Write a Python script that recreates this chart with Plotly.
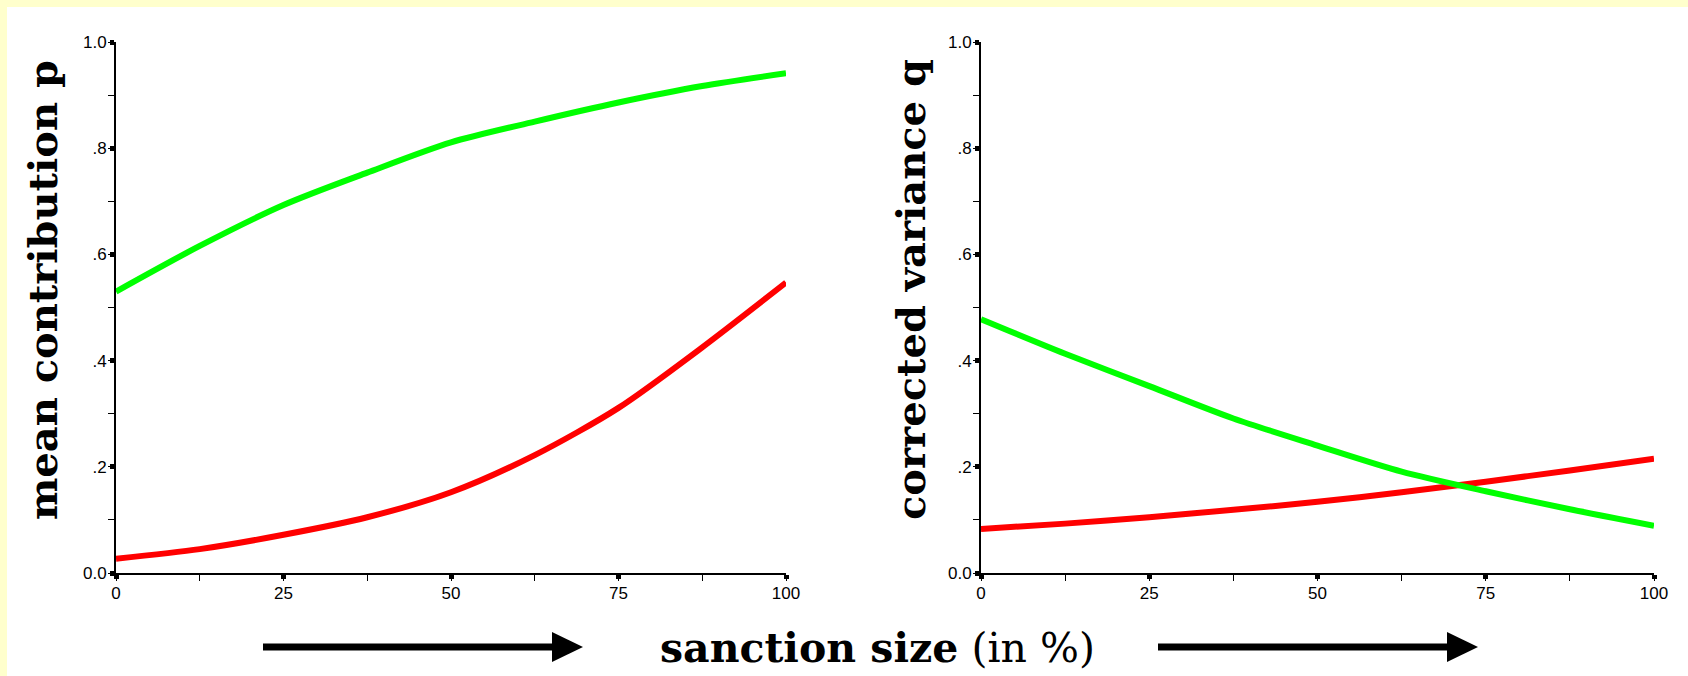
import plotly.graph_objects as go

# ---- data ----
sanction = [0, 12.5, 25, 37.5, 50, 62.5, 75, 87.5, 100]
p_green = [0.530, 0.616, 0.693, 0.754, 0.811, 0.850, 0.886, 0.917, 0.941]
p_red = [0.027, 0.045, 0.072, 0.105, 0.152, 0.222, 0.311, 0.425, 0.547]
q_green = [0.478, 0.413, 0.352, 0.291, 0.240, 0.191, 0.154, 0.120, 0.089]
q_red = [0.083, 0.093, 0.105, 0.119, 0.134, 0.152, 0.172, 0.193, 0.215]

x_ticks = [0, 25, 50, 75, 100]
x_ticklabels = ["0", "25", "50", "75", "100"]
y_ticks = [0.0, 0.2, 0.4, 0.6, 0.8, 1.0]
y_ticklabels = ["0.0", ".2", ".4", ".6", ".8", "1.0"]

left_title = "mean contribution p"
right_title = "corrected variance q"
bottom_title = "<b>sanction size</b> (in %)"

W, H = 1688, 676
GREEN = "#00FF00"
RED = "#FF0000"
YELLOW = "#FFFFCC"


def px(x):
    return x / W


def py(y):
    return (H - y) / H


fig = go.Figure()
line_kw = dict(width=6, shape="spline", smoothing=0.8)
fig.add_trace(go.Scatter(x=sanction, y=p_green, mode="lines", line=dict(color=GREEN, **line_kw),
                         xaxis="x", yaxis="y", showlegend=False, hoverinfo="skip"))
fig.add_trace(go.Scatter(x=sanction, y=p_red, mode="lines", line=dict(color=RED, **line_kw),
                         xaxis="x", yaxis="y", showlegend=False, hoverinfo="skip"))
fig.add_trace(go.Scatter(x=sanction, y=q_red, mode="lines", line=dict(color=RED, **line_kw),
                         xaxis="x2", yaxis="y2", showlegend=False, hoverinfo="skip"))
fig.add_trace(go.Scatter(x=sanction, y=q_green, mode="lines", line=dict(color=GREEN, **line_kw),
                         xaxis="x2", yaxis="y2", showlegend=False, hoverinfo="skip"))

tickfont = dict(family="Liberation Sans, Arial, sans-serif", size=17, color="#000")

xcommon = dict(range=[0, 100], tickvals=x_ticks, ticktext=x_ticklabels, ticks="outside",
               ticklen=4, tickwidth=5, tickcolor="#000", showline=True, linecolor="#000",
               linewidth=2, showgrid=False, zeroline=False, tickfont=tickfont, automargin=False,
               minor=dict(ticks="outside", ticklen=6, tickwidth=1, tickcolor="#000", dtick=12.5,
                          tick0=0, showgrid=False))
ycommon = dict(range=[0, 1], tickvals=y_ticks, ticktext=y_ticklabels, ticks="outside",
               ticklen=4, tickwidth=5, tickcolor="#000", showline=True, linecolor="#000",
               linewidth=2, showgrid=False, zeroline=False, tickfont=tickfont, automargin=False,
               minor=dict(ticks="outside", ticklen=6, tickwidth=1, tickcolor="#000", dtick=0.1,
                          tick0=0, showgrid=False))

ydom = [py(573), py(42)]
fig.update_layout(
    width=W, height=H,
    margin=dict(l=0, r=0, t=0, b=0, autoexpand=False),
    paper_bgcolor="white",
    plot_bgcolor="rgba(0,0,0,0)",
    xaxis=dict(domain=[px(116), px(786)], anchor="y", **xcommon),
    yaxis=dict(domain=ydom, anchor="x", **ycommon),
    xaxis2=dict(domain=[px(981), px(1654)], anchor="y2", **xcommon),
    yaxis2=dict(domain=ydom, anchor="x2", **ycommon),
)

# yellow frame strips (left and top)
fig.add_shape(type="rect", xref="paper", yref="paper", x0=0, x1=px(7), y0=0, y1=1,
              fillcolor=YELLOW, line=dict(width=0), layer="below")
fig.add_shape(type="rect", xref="paper", yref="paper", x0=0, x1=1, y0=py(7), y1=1,
              fillcolor=YELLOW, line=dict(width=0), layer="below")

# arrows
for x0, x1 in [(263, 583), (1158, 1478)]:
    head = 31
    fig.add_shape(type="line", xref="paper", yref="paper", x0=px(x0), x1=px(x1 - head + 2),
                  y0=py(647), y1=py(647), line=dict(color="black", width=7))
    path = "M {a},{b} L {c},{d} L {a},{e} Z".format(a=px(x1 - head), b=py(632), c=px(x1), d=py(647), e=py(662))
    fig.add_shape(type="path", xref="paper", yref="paper", path=path, fillcolor="black",
                  line=dict(color="black", width=0))

serif = "DejaVu Serif, serif"
fig.add_annotation(text="<b>" + left_title + "</b>", xref="paper", yref="paper", x=px(42), y=py(290),
                   textangle=-90, showarrow=False, font=dict(family=serif, size=40, color="#000"),
                   xanchor="center", yanchor="middle")
fig.add_annotation(text="<b>" + right_title + "</b>", xref="paper", yref="paper", x=px(910), y=py(290),
                   textangle=-90, showarrow=False, font=dict(family=serif, size=40, color="#000"),
                   xanchor="center", yanchor="middle")
fig.add_annotation(text=bottom_title, xref="paper", yref="paper", x=px(877), y=py(648),
                   showarrow=False, font=dict(family=serif, size=41, color="#000"),
                   xanchor="center", yanchor="middle")

fig.write_html(
    "out.html",
    config={"displayModeBar": False, "staticPlot": True},
    post_script="document.body.style.margin='0';document.body.style.background='#FFFFFF';",
)
